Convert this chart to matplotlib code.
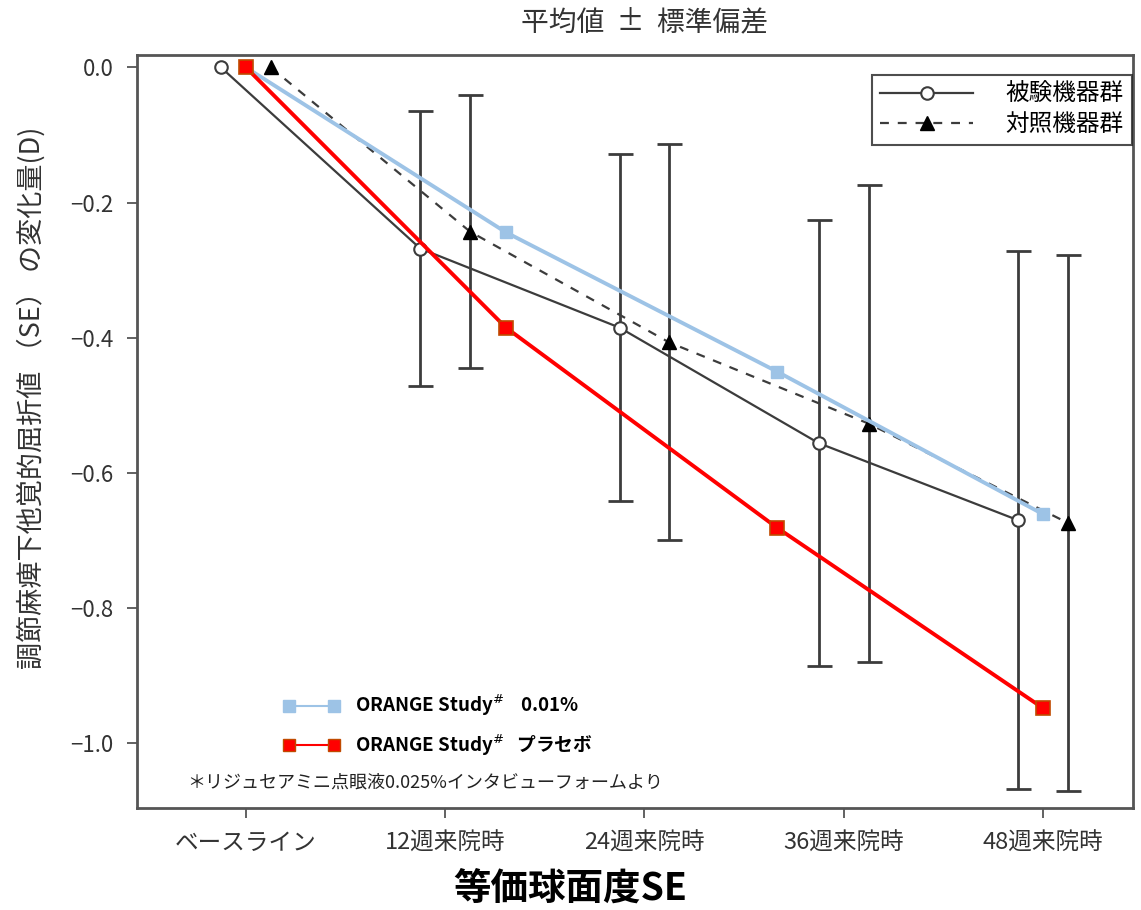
import matplotlib
matplotlib.use("Agg")
import matplotlib.pyplot as plt
from matplotlib.lines import Line2D

plt.rcParams["font.family"] = ["Noto Sans CJK JP", "DejaVu Sans"]

# データ
visits = ["ベースライン", "12週来院時", "24週来院時", "36週来院時", "48週来院時"]
test_mean = [0.0, -0.268, -0.385, -0.556, -0.670]
test_sd = [0.0, 0.204, 0.257, 0.330, 0.398]
ctrl_mean = [0.0, -0.243, -0.407, -0.527, -0.674]
ctrl_sd = [0.0, 0.202, 0.293, 0.353, 0.397]
orange_pos = [0.0, 1.305, 2.665, 4.0]
orange_001 = [0.0, -0.244, -0.450, -0.661]
orange_placebo = [0.0, -0.385, -0.681, -0.948]
yticks = [0.0, -0.2, -0.4, -0.6, -0.8, -1.0]

fig = plt.figure(figsize=(11.41, 9.10), dpi=100)
ax = fig.add_axes([0.120, 0.112, 0.873, 0.828])

xs = list(range(len(visits)))
x_test = [x - 0.125 for x in xs]
x_ctrl = [x + 0.125 for x in xs]
gray = "#3c3c3c"

# 被験機器群
ax.errorbar(x_test[1:], test_mean[1:], yerr=test_sd[1:], fmt="none",
            ecolor=gray, elinewidth=2, capsize=9, capthick=2, zorder=2)
ax.plot(x_test, test_mean, color=gray, lw=1.6, marker="o", ms=9,
        mfc="white", mec=gray, mew=1.5, zorder=3, label="被験機器群")
# 対照機器群
ax.errorbar(x_ctrl[1:], ctrl_mean[1:], yerr=ctrl_sd[1:], fmt="none",
            ecolor=gray, elinewidth=2, capsize=9, capthick=2, zorder=2)
ax.plot(x_ctrl, ctrl_mean, color=gray, lw=1.6, ls=(0, (4, 4)), marker="^",
        ms=10, mfc="black", mec="black", zorder=3, label="対照機器群")

# ORANGE Study
ax.plot(orange_pos, orange_001, color="#9DC3E6", lw=2.8, marker="s", ms=9,
        mfc="#9DC3E6", mec="#9DC3E6", zorder=4)
ax.plot(orange_pos, orange_placebo, color="#FF0000", lw=2.8, marker="s", ms=10,
        mfc="#FF0000", mec="#C04A00", mew=1.2, zorder=5)

# 軸
ax.set_xlim(-0.547, 4.452)
ax.set_ylim(-1.096, 0.019)
ax.set_xticks(xs)
ax.set_xticklabels(visits, fontsize=17, color="#333333")
ax.set_yticks(yticks)
ax.set_yticklabels(["0.0" if v == 0 else "−%.1f" % abs(v) for v in yticks],
                   fontsize=16, color="#333333")
ax.tick_params(length=7, width=1.3, color="#555555", pad=10)
for s in ax.spines.values():
    s.set_linewidth(2)
    s.set_color("#555555")

ax.set_ylabel("調節麻痺下他覚的屈折値 （SE） の変化量(D)", fontsize=19.5,
              color="#333333")
ax.yaxis.set_label_coords(-0.092, 0.545)
fig.text(0.565, 0.975, "平均値  ±  標準偏差", fontsize=20, color="#333333",
         ha="center", va="center")
fig.text(0.50, 0.024, "等価球面度SE", fontsize=27, fontweight="bold",
         ha="center", va="center")

# 凡例
leg1 = ax.legend(loc="upper right", fontsize=17, frameon=True, fancybox=False,
                 edgecolor="#222222", handlelength=3.9, borderpad=0.35,
                 labelspacing=0.3, handletextpad=1.4,
                 bbox_to_anchor=(0.999, 0.973), borderaxespad=0)
leg1.get_frame().set_linewidth(1.5)
ax.add_artist(leg1)

h_blue = Line2D([], [], color="#9DC3E6", lw=1.5, marker="s", ms=8,
                mfc="#9DC3E6", mec="#9DC3E6")
h_red = Line2D([], [], color="#FF0000", lw=1.5, marker="s", ms=8,
               mfc="#FF0000", mec="#C04A00")
leg2 = ax.legend([h_blue, h_red],
                 ["ORANGE Study$^{\\#}$    0.01%", "ORANGE Study$^{\\#}$   プラセボ"],
                 loc="lower left", bbox_to_anchor=(0.13, 0.044), numpoints=2,
                 frameon=False, handlelength=3.0, labelspacing=0.75,
                 prop={"weight": "bold", "size": 13.5})

ax.text(0.05, 0.028, "＊リジュセアミニ点眼液0.025%インタビューフォームより",
        transform=ax.transAxes, fontsize=13, color="#222222")

fig.savefig("out.png", dpi=100)
